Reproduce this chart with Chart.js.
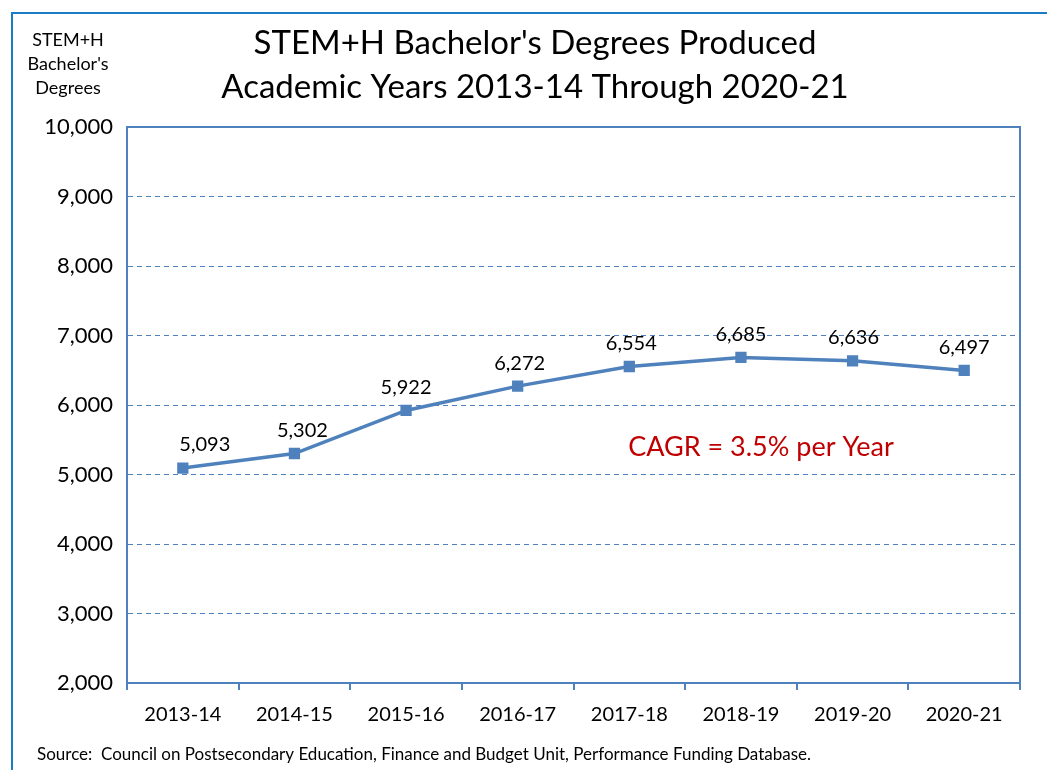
<!DOCTYPE html>
<html>
<head>
<meta charset="utf-8">
<script src="https://cdn.jsdelivr.net/npm/chart.js@4/dist/chart.umd.min.js"></script>
<style>
    html, body { margin: 0; padding: 0; background: #fff; }
    #wrap { width: 1047px; height: 770px; position: relative; }
</style>
</head>
<body>
<div id="wrap"><canvas id="chart" width="1047" height="770"></canvas></div>
<script>
    // data
    const years = ['2013-14', '2014-15', '2015-16', '2016-17', '2017-18', '2018-19', '2019-20', '2020-21'];
    const degrees = [5093, 5302, 5922, 6272, 6554, 6685, 6636, 6497];
    const yTicks = [2000, 3000, 4000, 5000, 6000, 7000, 8000, 9000, 10000];

    const titleLines = ["STEM+H Bachelor's Degrees Produced", 'Academic Years 2013-14 Through 2020-21'];
    const yTitleLines = ['STEM+H', "Bachelor's", 'Degrees'];
    const cagrText = 'CAGR = 3.5% per Year';
    const sourceText = 'Source:  Council on Postsecondary Education, Finance and Budget Unit, Performance Funding Database.';

    const FONT = 'Lato, "Open Sans", sans-serif';
    const BLUE = '#4F81BD';
    const fmt = v => v.toLocaleString('en-US');

    // outer frame, plot border and free texts
    const decorations = {
        id: 'decorations',
        beforeDraw(chart) {
            const ctx = chart.ctx;
            ctx.save();
            ctx.strokeStyle = '#1A7DC4';
            ctx.lineWidth = 2;
            ctx.beginPath();
            ctx.moveTo(12, 770);
            ctx.lineTo(12, 13);
            ctx.lineTo(1047, 13);
            ctx.stroke();
            ctx.restore();
        },
        afterDraw(chart) {
            const ctx = chart.ctx;
            const area = chart.chartArea;
            ctx.save();

            ctx.strokeStyle = BLUE;
            ctx.lineWidth = 2;
            ctx.strokeRect(area.left, area.top, area.right - area.left, area.bottom - area.top);

            ctx.fillStyle = '#000';
            ctx.textAlign = 'center';
            ctx.textBaseline = 'middle';
            ctx.font = '33px ' + FONT;
            ctx.fillText(titleLines[0], 535, 43);
            ctx.fillText(titleLines[1], 535, 87);

            ctx.font = '18px ' + FONT;
            yTitleLines.forEach((l, i) => ctx.fillText(l, 68, 40 + i * 24));

            // value labels above the points
            const meta = chart.getDatasetMeta(0);
            const shift = [22, 8, 0, 2, 2, 0, 1, 0];
            ctx.font = '20px ' + FONT;
            meta.data.forEach((pt, i) => {
                ctx.fillText(fmt(degrees[i]), pt.x + shift[i], pt.y - 23);
            });

            ctx.fillStyle = '#C00000';
            ctx.font = '27px ' + FONT;
            ctx.fillText(cagrText, 761, 447);

            ctx.fillStyle = '#000';
            ctx.textAlign = 'left';
            ctx.font = '17px ' + FONT;
            ctx.fillText(sourceText, 37, 755);
            ctx.restore();
        }
    };

    new Chart(document.getElementById('chart'), {
        type: 'line',
        data: {
            labels: years,
            datasets: [{
                data: degrees,
                borderColor: BLUE,
                backgroundColor: BLUE,
                borderWidth: 3.5,
                pointStyle: 'rect',
                pointRadius: 5.5,
                pointHoverRadius: 5.5,
                tension: 0
            }]
        },
        options: {
            responsive: false,
            animation: false,
            events: [],
            layout: { padding: { top: 127, right: 27, left: 0, bottom: 0 } },
            plugins: { legend: { display: false }, title: { display: false }, tooltip: { enabled: false } },
            scales: {
                x: {
                    offset: true,
                    afterFit: s => { s.height = 87; },
                    grid: { offset: true, drawOnChartArea: false, drawTicks: true, tickLength: 7, color: BLUE, lineWidth: 2 },
                    border: { display: true, color: BLUE, width: 2 },
                    ticks: { color: '#000', font: { family: FONT, size: 20 }, padding: 13, maxRotation: 0 }
                },
                y: {
                    min: 2000,
                    max: 10000,
                    afterFit: s => { s.width = 127; },
                    afterBuildTicks: s => { s.ticks = yTicks.map(v => ({ value: v })); },
                    grid: { drawTicks: false, color: BLUE, lineWidth: 1 },
                    border: { display: true, color: BLUE, width: 2, dash: [5, 4] },
                    ticks: { color: '#000', font: { family: FONT, size: 22 }, padding: 14, callback: v => fmt(v) }
                }
            }
        },
        plugins: [decorations]
    });
</script>
</body>
</html>
